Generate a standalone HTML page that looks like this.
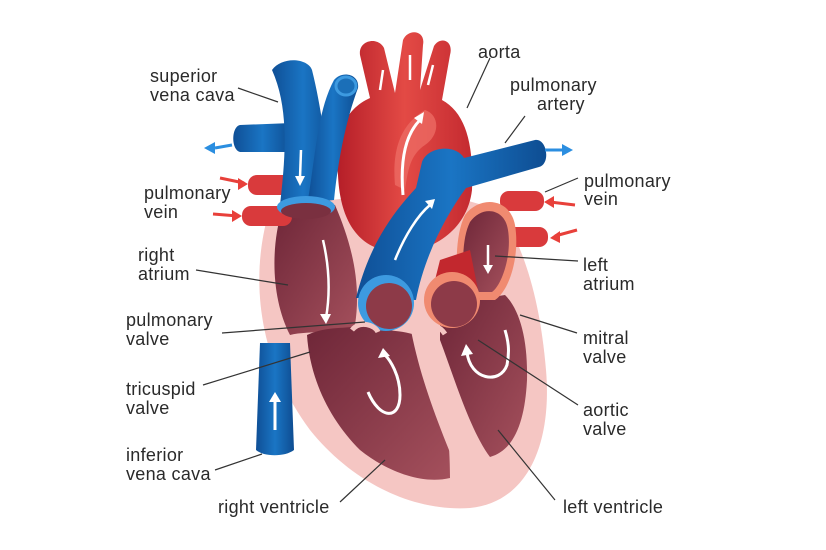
<!DOCTYPE html>
<html><head><meta charset="utf-8"><style>
html,body{margin:0;padding:0;background:#fff;}
svg{display:block;}
text{font-family:"Liberation Sans",sans-serif;font-size:18px;letter-spacing:0.3px;fill:#2a2a2a;}
</style></head><body>
<svg width="826" height="550" viewBox="0 0 826 550" xmlns="http://www.w3.org/2000/svg">
<defs>
<linearGradient id="dk" x1="0" y1="0" x2="1" y2="1"><stop offset="0" stop-color="#6e2638"/><stop offset="1" stop-color="#a4505c"/></linearGradient>
<linearGradient id="bl" x1="0" y1="0" x2="1" y2="0"><stop offset="0" stop-color="#0f4f96"/><stop offset=".5" stop-color="#1a75c4"/><stop offset="1" stop-color="#0e4d92"/></linearGradient>
<linearGradient id="rd" x1="0" y1="0" x2="1" y2="0"><stop offset="0" stop-color="#b51e28"/><stop offset=".5" stop-color="#e34a45"/><stop offset="1" stop-color="#c42a30"/></linearGradient>
</defs>
<path d="M268,215 C250,280 258,360 310,430 C350,480 410,512 470,508 C530,502 552,440 546,370 C540,300 525,250 500,210 L430,190 L330,200 Z" fill="#f5c6c3"/>
<path d="M282,210 L335,205 C350,240 362,280 355,325 C340,335 310,330 290,335 C272,300 270,250 282,210 Z" fill="url(#dk)"/>
<path d="M307,335 C330,325 345,330 360,325 L380,330 C400,330 420,335 430,340 C440,380 450,420 450,478 C420,485 385,470 360,450 C330,420 310,380 307,335 Z" fill="url(#dk)"/>
<path d="M440,305 L505,295 C520,310 528,340 527,380 C525,420 515,450 490,457 C470,430 455,380 440,340 Z" fill="url(#dk)"/>
<path d="M410,325 C420,380 440,430 470,500 L478,500 C455,430 440,380 432,325 Z" fill="#f5c6c3"/>
<path d="M260,343 L290,343 L294,450 C285,457 264,457 256,450 Z" fill="url(#bl)"/>
<path d="M275,430 L275,400" stroke="#fff" stroke-width="3"/><path d="M269,402 L275,392 L281,402 Z" fill="#fff"/>
<rect x="248" y="175" width="45" height="20" rx="9" fill="#d93a3c"/>
<rect x="242" y="206" width="50" height="20" rx="9" fill="#d93a3c"/>
<rect x="500" y="191" width="44" height="20" rx="9" fill="#d93a3c"/>
<rect x="500" y="227" width="48" height="20" rx="9" fill="#d93a3c"/>
<path d="M220,178 L244,183 M213,214 L238,216 M575,205 L550,202 M577,230 L555,236" stroke="#e8403a" stroke-width="3"/>
<path d="M238,178 L248,184 L238,190 Z M232,210 L242,216 L232,222 Z M554,196 L544,202 L554,208 Z M560,231 L550,238 L560,243 Z" fill="#e8403a"/>
<path d="M338,175 C333,130 348,108 370,98 L360,55 C358,40 378,36 384,48 L395,93 L403,40 C408,28 426,30 423,45 L420,90 L434,46 C440,36 454,40 450,55 L442,100 C464,112 474,140 472,190 C467,232 430,252 400,252 C358,252 340,220 338,175 Z" fill="url(#rd)"/>
<path d="M395,185 C392,150 400,125 425,110 C440,115 440,135 425,145 C410,155 408,170 405,190 Z" fill="#ec6a63" opacity=".8"/>
<path d="M403,195 C400,160 405,135 420,120" stroke="#fff" stroke-width="3" fill="none"/><path d="M414,118 L424,112 L422,124 Z" fill="#fff"/>
<path d="M383,70 L380,90 M410,55 L410,80 M433,65 L428,85" stroke="#fff" stroke-width="2.5"/>
<path d="M465,215 C480,195 510,198 515,225 C520,255 510,290 495,300 L460,300 C455,270 455,235 465,215 Z" fill="#f08a70"/>
<path d="M470,222 C482,205 505,208 508,230 C512,255 502,285 492,292 L465,292 C462,265 462,238 470,222 Z" fill="url(#dk)"/>
<path d="M488,245 L488,268" stroke="#fff" stroke-width="2.5"/><path d="M483,265 L488,274 L493,265 Z" fill="#fff"/>
<path d="M440,260 L470,250 L480,300 L430,300 Z" fill="#c2282e"/>
<path d="M240,125 L292,123 L292,152 L240,152 C231,150 231,127 240,125 Z" fill="url(#bl)"/>
<path d="M272,70 C282,56 308,58 312,70 C322,110 326,150 334,200 L280,205 C285,160 290,110 272,70 Z" fill="url(#bl)"/>
<path d="M334,80 C342,70 360,74 358,88 C346,120 338,160 334,200 L308,200 C316,150 318,110 334,80 Z" fill="url(#bl)"/>
<ellipse cx="346" cy="86" rx="10" ry="9" fill="#1b6fb8" stroke="#3d9ae0" stroke-width="3"/>
<ellipse cx="306" cy="207" rx="29" ry="11" fill="#3d9ae0"/>
<ellipse cx="306" cy="211" rx="25" ry="8" fill="#7a3040"/>
<path d="M301,150 L300,178" stroke="#fff" stroke-width="2.5"/><path d="M295,176 L300,186 L305,176 Z" fill="#fff"/>
<path d="M323,240 C330,270 330,295 326,318" stroke="#fff" stroke-width="2.5" fill="none"/><path d="M320,314 L326,324 L331,314 Z" fill="#fff"/>
<path d="M232,145 L215,148" stroke="#2b8ee0" stroke-width="3"/><path d="M215,142 L204,148 L215,154 Z" fill="#2b8ee0"/>
<path d="M356,298 C368,250 388,218 416,188 L422,162 C428,146 456,144 464,158 L535,140 C547,138 551,164 539,167 L466,188 C444,218 424,258 416,300 Z" fill="url(#bl)"/>
<path d="M545,150 L562,150" stroke="#2b8ee0" stroke-width="3"/><path d="M562,144 L573,150 L562,156 Z" fill="#2b8ee0"/>
<path d="M395,260 C405,235 418,215 430,205" stroke="#fff" stroke-width="2.5" fill="none"/><path d="M425,201 L435,199 L432,209 Z" fill="#fff"/>
<circle cx="386" cy="303" r="28" fill="#3d9ae0"/>
<circle cx="389" cy="306" r="23" fill="#8d3a48"/>
<circle cx="452" cy="300" r="28" fill="#f08a70"/>
<circle cx="454" cy="304" r="23" fill="#8d3a48"/>
<path d="M352,330 C360,320 375,325 378,332 M420,330 C430,322 440,326 445,334" stroke="#f5c6c3" stroke-width="5" fill="none"/>
<path d="M368,392 C380,420 400,420 400,395 C400,375 390,360 385,355" stroke="#fff" stroke-width="3" fill="none"/><path d="M378,358 L383,348 L390,356 Z" fill="#fff"/>
<path d="M467,352 C470,380 500,385 507,365 C510,350 508,340 505,330" stroke="#fff" stroke-width="3" fill="none"/><path d="M461,356 L466,344 L473,354 Z" fill="#fff"/>
<g stroke="#333" stroke-width="1.2" fill="none">
<path d="M238,88 L278,102"/><path d="M490,58 L467,108"/><path d="M525,116 L505,143"/>
<path d="M578,178 L545,192"/><path d="M196,270 L288,285"/><path d="M578,261 L495,256"/>
<path d="M222,333 L365,322"/><path d="M577,333 L520,315"/><path d="M203,385 L310,352"/>
<path d="M578,405 L478,340"/><path d="M215,470 L262,454"/><path d="M340,502 L385,460"/>
<path d="M555,500 L498,430"/>
</g>
<text x="150" y="82">superior</text><text x="150" y="101">vena cava</text>
<text x="478" y="58">aorta</text>
<text x="510" y="91">pulmonary</text><text x="537" y="110">artery</text>
<text x="584" y="187">pulmonary</text><text x="584" y="205">vein</text>
<text x="144" y="199">pulmonary</text><text x="144" y="218">vein</text>
<text x="138" y="261">right</text><text x="138" y="280">atrium</text>
<text x="583" y="271">left</text><text x="583" y="290">atrium</text>
<text x="126" y="326">pulmonary</text><text x="126" y="345">valve</text>
<text x="583" y="344">mitral</text><text x="583" y="363">valve</text>
<text x="126" y="395">tricuspid</text><text x="126" y="414">valve</text>
<text x="583" y="416">aortic</text><text x="583" y="435">valve</text>
<text x="126" y="461">inferior</text><text x="126" y="480">vena cava</text>
<text x="218" y="513">right ventricle</text>
<text x="563" y="513">left ventricle</text>
</svg>
</body></html>
